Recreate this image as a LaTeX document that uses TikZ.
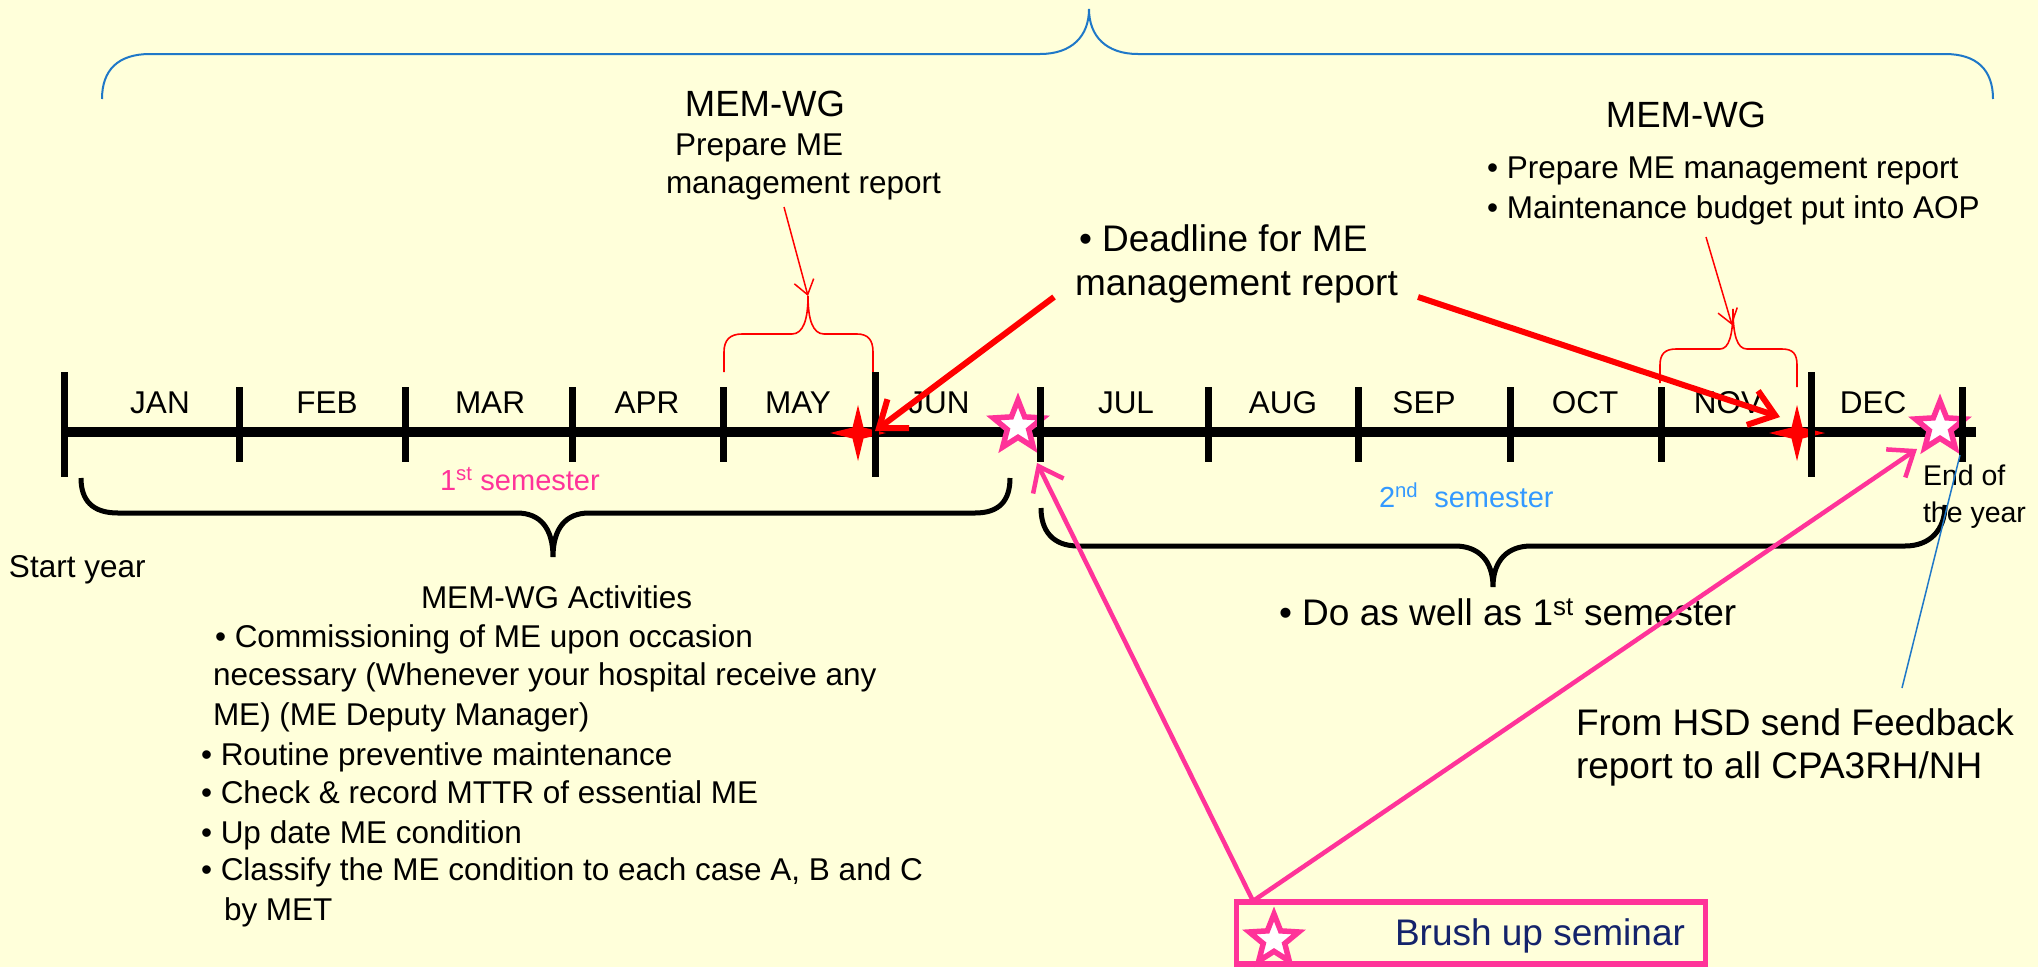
\documentclass[tikz,border=0pt]{standalone}
\usepackage{fontspec}
\setmainfont{Liberation Sans}
\usetikzlibrary{arrows.meta,shapes.geometric}
\definecolor{paper}{HTML}{FFFFDA}
\definecolor{hotpink}{HTML}{FF3399}
\definecolor{bracebl}{HTML}{1F78C8}
\definecolor{semblue}{HTML}{3399FF}
\definecolor{navy}{HTML}{14236B}
\begin{document}
\begin{tikzpicture}[x=1pt,y=-1pt,
  fsz/.style={font=\fontsize{#1}{#1}\selectfont},
  lbl/.style={inner sep=0pt, outer sep=0pt, anchor=base west, fsz=31.5},
  month/.style={inner sep=0pt, outer sep=0pt, anchor=base, fsz=31.5},
  monthtick/.style={line width=7pt},
  timeline/.style={line width=10pt},
  bluebrace/.style={draw=bracebl, line width=2pt},
  redbrace/.style={draw=red, line width=1.6pt},
  blackbrace/.style={draw=black, line width=5pt},
  bigred/.style={draw=red, line width=6pt, -{Straight Barb[length=24pt,width=36pt]}},
  thinred/.style={draw=red, line width=1.5pt, -{Straight Barb[length=14pt,width=20pt]}},
  pinkarrow/.style={draw=hotpink, line width=4.5pt, -{Straight Barb[length=22pt,width=34pt]}},
  pinkstar/.style={star, star points=5, star point ratio=2.3, minimum size=52pt,
    inner sep=0pt, outer sep=0pt, draw=hotpink, line width=5.5pt, fill=white},
  redstar/.style={star, star points=4, star point ratio=3.6, minimum size=56pt,
    inner sep=0pt, outer sep=0pt, fill=red},
]
% page and background
\useasboundingbox (0,0) rectangle (2038,967);
\fill[paper] (0,0) rectangle (2038,967);

% year brace on top
\draw[bluebrace] (102,99) .. controls (102,70) and (118,54) .. (150,54) -- (1040,54)
  .. controls (1072,54) and (1089,36) .. (1089,9)
  .. controls (1089,36) and (1106,54) .. (1138,54) -- (1945,54)
  .. controls (1977,54) and (1993,70) .. (1993,99);

% report braces above May and November
\draw[redbrace] (724,372) -- (724,352) .. controls (724,340) and (730,334) .. (742,334) -- (792,334)
  .. controls (803,334) and (808,320) .. (808,296)
  .. controls (808,320) and (813,334) .. (824,334) -- (857,334)
  .. controls (868,334) and (873,340) .. (873,352) -- (873,372);
\draw[redbrace] (1660,383) -- (1660,365) .. controls (1660,354) and (1665,349) .. (1676,349) -- (1720,349)
  .. controls (1729,349) and (1733,335) .. (1733,309)
  .. controls (1733,335) and (1737,349) .. (1747,349) -- (1782,349)
  .. controls (1793,349) and (1797,354) .. (1797,365) -- (1797,387);

% semester braces
\draw[blackbrace] (81,478) .. controls (81,500) and (92,513) .. (118,513) -- (517,513)
  .. controls (540,513) and (553,528) .. (553,557)
  .. controls (553,528) and (566,513) .. (589,513) -- (975,513)
  .. controls (1000,513) and (1010,500) .. (1010,478);
\draw[blackbrace] (1041,508) .. controls (1041,530) and (1052,546) .. (1078,546) -- (1455,546)
  .. controls (1478,546) and (1493,560) .. (1493,587)
  .. controls (1493,560) and (1508,546) .. (1531,546) -- (1905,546)
  .. controls (1930,546) and (1945,530) .. (1945,505);

% time line
\draw[timeline] (64,432) -- (1976,432);

% milestones
\node[redstar] (dl1) at (858,433) {};
\node[redstar] (dl2) at (1797,433) {};
\node[pinkstar] (sem1) at (1018,426) {};
\node[pinkstar] (sem2) at (1940,427) {};

% month boundaries
\foreach \x in {239,405,572,723,1040,1208,1358,1510,1661,1962}
  \draw[monthtick] (\x,387) -- (\x,462);
\foreach \x in {64,875,1811}
  \draw[monthtick] (\x,372) -- (\x,477);

% month names
\node[month] (jan) at (160,413) {JAN};
\node[month] (feb) at (327,413) {FEB};
\node[month] (mar) at (490,413) {MAR};
\node[month] (apr) at (647,413) {APR};
\node[month] (may) at (798,413) {MAY};
\node[month] (jun) at (939,413) {JUN};
\node[month] (jul) at (1126,413) {JUL};
\node[month] (aug) at (1283,413) {AUG};
\node[month] (sep) at (1424,413) {SEP};
\node[month] (oct) at (1585,413) {OCT};
\node[month] (nov) at (1728,413) {NOV};
\node[month] (dec) at (1873,413) {DEC};

% first half report
\node[month, fsz=36.5] (wg1) at (765,116) {MEM-WG};
\node[lbl] (wg1a) at (675,155) {Prepare ME};
\node[lbl] (wg1b) at (666,193) {management report};

% second half report
\node[month, fsz=36.5] (wg2) at (1686,127) {MEM-WG};
\node[lbl] (wg2a) at (1487,178) {• Prepare ME management report};
\node[lbl] (wg2b) at (1487,218) {• Maintenance budget put into AOP};

% deadline
\node[lbl, fsz=37] (dla) at (1079,251) {• Deadline for ME};
\node[lbl, fsz=37] (dlb) at (1075,295) {management report};

% semester labels
\node[lbl, fsz=29, text=hotpink] (s1) at (440,490) {1\textsuperscript{st} semester};
\node[lbl, fsz=29, text=semblue] (s2) at (1379,507) {2\textsuperscript{nd}~~semester};
\node[lbl] (start) at (9,577) {Start year};
\node[lbl, fsz=28.5] (endA) at (1923,485) {End of};
\node[lbl, fsz=28.5] (endB) at (1923,522) {the year};

% activities
\node[lbl] (act) at (421,608) {MEM-WG Activities};
\node[lbl] (act1) at (215,647) {• Commissioning of ME upon occasion};
\node[lbl] (act1b) at (213,685) {necessary (Whenever your hospital receive any};
\node[lbl] (act1c) at (213,725) {ME) (ME Deputy Manager)};
\node[lbl] (act2) at (201,765) {• Routine preventive maintenance};
\node[lbl] (act3) at (201,803) {• Check \& record MTTR of essential ME};
\node[lbl] (act4) at (201,843) {• Up date ME condition};
\node[lbl] (act5) at (201,880) {• Classify the ME condition to each case A, B and C};
\node[lbl] (act5b) at (224,920) {by MET};

\node[lbl, fsz=37] (again) at (1279,625) {• Do as well as 1\textsuperscript{st} semester};
\node[lbl, fsz=37] (fb1) at (1576,735) {From HSD send Feedback};
\node[lbl, fsz=37] (fb2) at (1576,778) {report to all CPA3RH/NH};

% seminar box
\node[draw=hotpink, line width=5.5pt, minimum width=469pt, minimum height=62pt,
  inner sep=0pt] (box) at (1471,933) {};
\node[pinkstar] (boxstar) at (1274,940) {};
\node[lbl, fsz=37, text=navy] (brush) at (1395,945) {Brush up seminar};

% connectors
\coordinate (dlL) at (1054,297);
\coordinate (dlR) at (1418,297);
\coordinate (junTip) at (875,431);
\coordinate (novTip) at (1780,417);
\draw[bigred] (dlL) -- (junTip);
\draw[bigred] (dlR) -- (novTip);

\coordinate (wg1Src) at (784,207);
\coordinate (wg1Tip) at (808,296);
\coordinate (wg2Src) at (1706,237);
\coordinate (wg2Tip) at (1732,325);
\draw[thinred] (wg1Src) -- (wg1Tip);
\draw[thinred] (wg2Src) -- (wg2Tip);

\coordinate (boxTop) at (1253,901);
\coordinate (julTip) at (1037,463);
\coordinate (decTip) at (1917,449);
\draw[pinkarrow] (boxTop) -- (julTip);
\draw[pinkarrow] (boxTop) -- (decTip);

\coordinate (fbTop) at (1902,688);
\coordinate (yearEnd) at (1960,455);
\draw[draw=bracebl, line width=1.5pt] (fbTop) -- (yearEnd);
\end{tikzpicture}
\end{document}
